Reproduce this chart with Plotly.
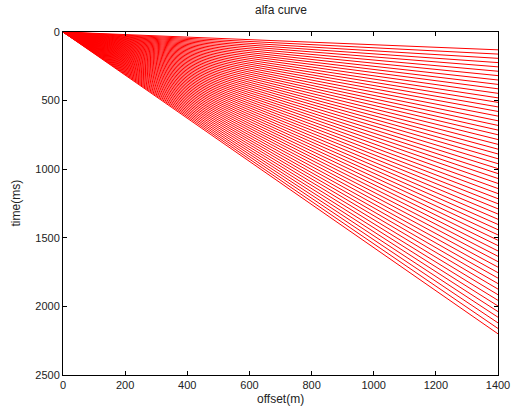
import plotly.graph_objects as go

# offsets (m) at which each line is drawn
offset_start = 0
offset_end = 1400
# time (ms) of each alfa line at the far offset
end_times = [130, 161, 192, 223, 254, 286, 318, 350, 382, 414, 447, 480, 513, 546,
             579, 613, 647, 681, 715, 749, 784, 819, 854, 889, 924, 960, 996, 1032,
             1068, 1104, 1141, 1178, 1215, 1252, 1289, 1327, 1365, 1403, 1441, 1479,
             1518, 1557, 1596, 1635, 1674, 1714, 1754, 1794, 1834, 1874, 1915, 1956,
             1997, 2038, 2079, 2120, 2161, 2200]
x_ticks = [0, 200, 400, 600, 800, 1000, 1200, 1400]
y_ticks = [0, 500, 1000, 1500, 2000, 2500]

fig = go.Figure()
for t in end_times:
    fig.add_trace(go.Scatter(x=[offset_start, offset_end], y=[0, t], mode="lines",
                             line=dict(color="#ff0000", width=1), showlegend=False,
                             hoverinfo="skip"))

font = dict(family="Liberation Sans, Arial, sans-serif", size=11, color="#222222")
label_font = dict(family="Liberation Sans, Arial, sans-serif", size=12, color="#222222")
axis_common = dict(showline=True, linecolor="black", linewidth=1, mirror="ticks",
                   ticks="inside", ticklen=4, tickcolor="black", showgrid=False,
                   zeroline=False, tickfont=font, automargin=False)
fig.update_xaxes(range=[0, 1400], tickvals=x_ticks, **axis_common)
fig.update_yaxes(range=[2500, 0], tickvals=y_ticks, **axis_common)

fig.update_layout(
    width=512, height=412,
    margin=dict(l=63, r=14, t=32, b=37),
    paper_bgcolor="white", plot_bgcolor="white",
    font=font,
    annotations=[
        dict(text="alfa curve", x=0.5, xref="paper", y=1, yref="paper",
             yshift=13, showarrow=False, yanchor="bottom", font=label_font),
        dict(text="offset(m)", x=0.5, xref="paper", y=0, yref="paper",
             yshift=-15, showarrow=False, yanchor="top", font=label_font),
        dict(text="time(ms)", x=0, xref="paper", y=0.5, yref="paper",
             xshift=-48, showarrow=False, textangle=-90, xanchor="center", font=label_font),
    ],
)
fig.write_html(
    "out.html",
    config={"displayModeBar": False, "staticPlot": True},
    post_script="document.body.style.margin='0';document.body.style.overflow='hidden';",
)
